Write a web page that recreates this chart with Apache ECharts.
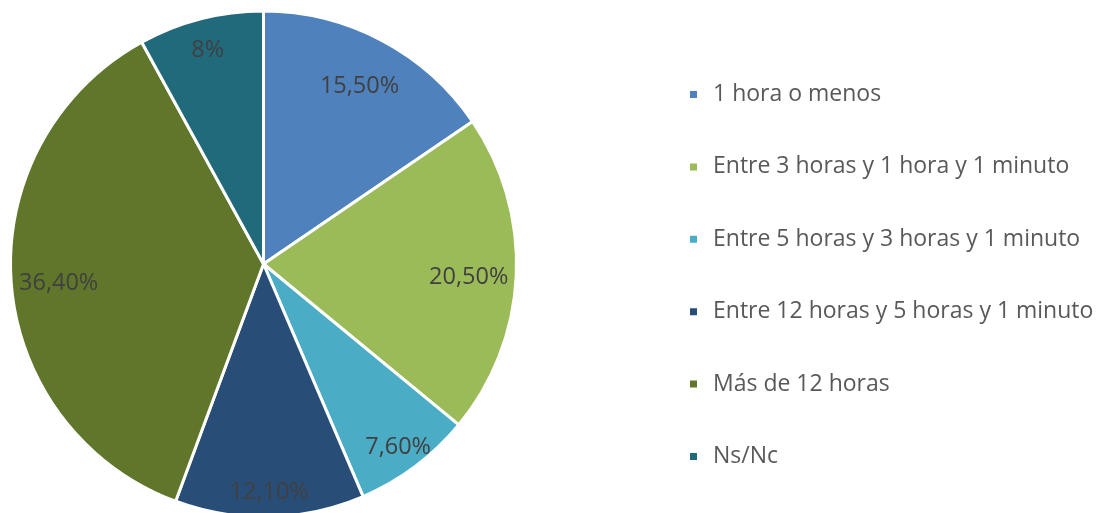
<!DOCTYPE html>
<html>
<head>
<meta charset="utf-8">
<script src="https://cdn.jsdelivr.net/npm/echarts@6/dist/echarts.min.js"></script>
<style>
  html, body { margin: 0; padding: 0; background: #fff; }
  #chart { width: 1103px; height: 513px; }
</style>
</head>
<body>
<div id="chart"></div>
<script>
// Time categories and their shares (percent)
const categories = [
  '1 hora o menos',
  'Entre 3 horas y 1 hora y 1 minuto',
  'Entre 5 horas y 3 horas y 1 minuto',
  'Entre 12 horas y 5 horas y 1 minuto',
  'Más de 12 horas',
  'Ns/Nc'
];
const shares = [15.5, 20.5, 7.6, 12.1, 36.4, 8];
const sliceColors = ['#4f81bd', '#9bbb59', '#4bacc6', '#284e78', '#60762b', '#216a7c'];

const fmt = v => (Number.isInteger(v) ? String(v) : v.toFixed(2).replace('.', ',')) + '%';

const center = [263.5, 264];
const R = 253;
const FONT = '"Open Sans", Lato, sans-serif';
const LABEL_STYLE = {
  position: 'inside',
  fontFamily: FONT,
  fontSize: 23.5,
  color: '#404040',
  offset: [0, 4],
  formatter: p => fmt(p.value)
};

// Transparent ring carrying value labels; wide slices get labels a bit
// further in, narrow slices closer to the rim.
function labelRing(inner, showWide) {
  return {
    type: 'pie',
    center: center,
    radius: [R * inner, R],
    startAngle: 90,
    clockwise: true,
    silent: true,
    avoidLabelOverlap: false,
    itemStyle: { color: 'rgba(0,0,0,0)', borderWidth: 0 },
    label: LABEL_STYLE,
    labelLine: { show: false },
    emphasis: { disabled: true },
    data: categories.map((name, i) => ({
      name,
      value: shares[i],
      label: { show: (shares[i] >= 15) === showWide }
    }))
  };
}

const chart = echarts.init(document.getElementById('chart'), null, { renderer: 'canvas' });
chart.setOption({
  animation: false,
  backgroundColor: '#ffffff',
  legend: {
    orient: 'vertical',
    left: 688,
    top: 82.5,
    padding: 0,
    icon: 'rect',
    itemWidth: 9,
    itemHeight: 9,
    itemGap: 48.4,
    selectedMode: false,
    data: categories,
    textStyle: {
      fontFamily: FONT,
      fontSize: 23,
      color: '#595959',
      lineHeight: 24,
      padding: [0, 0, 0, 10]
    }
  },
  series: [
    {
      type: 'pie',
      center: center,
      radius: [0, R],
      startAngle: 90,
      clockwise: true,
      avoidLabelOverlap: false,
      itemStyle: { borderColor: '#ffffff', borderWidth: 3 },
      label: { show: false },
      labelLine: { show: false },
      emphasis: { disabled: true },
      data: categories.map((name, i) => ({
        name,
        value: shares[i],
        itemStyle: { color: sliceColors[i] }
      }))
    },
    labelRing(0.60, true),
    labelRing(0.75, false)
  ]
});
</script>
</body>
</html>
